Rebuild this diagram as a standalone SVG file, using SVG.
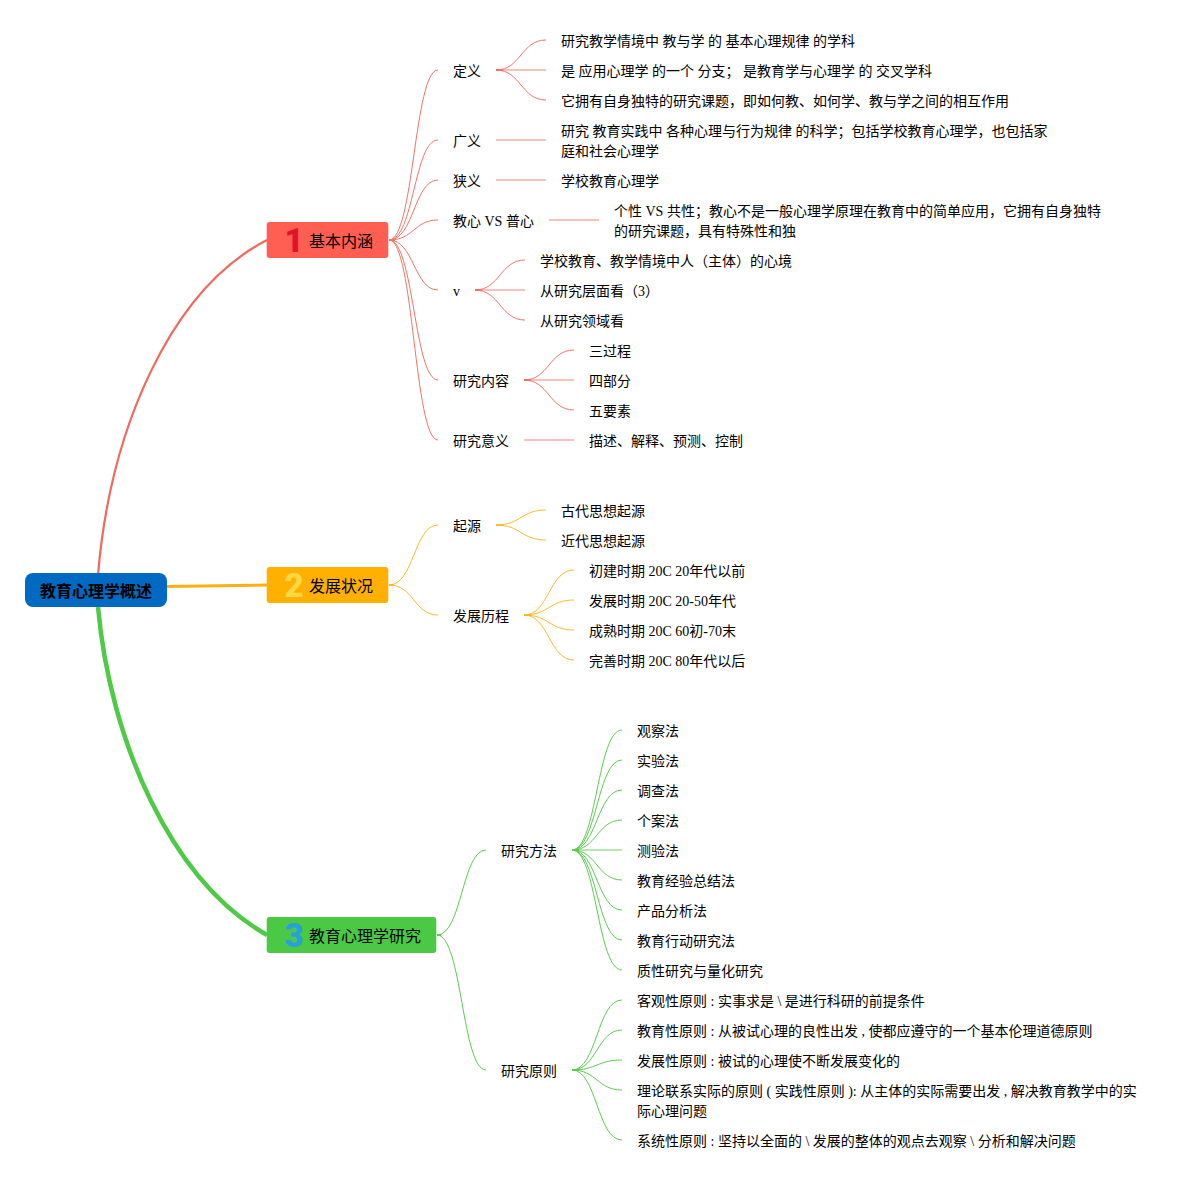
<svg xmlns="http://www.w3.org/2000/svg" width="1197" height="1180" viewBox="0 0 1197 1180">
<style>
text{font-family:"Liberation Serif","Noto Sans CJK SC",serif;font-size:14px;fill:#000}
.t{font-size:16px}
.r{font-size:16px;font-weight:bold;text-anchor:middle}
.n{font-family:"Roboto","Noto Sans",sans-serif;font-size:33px;font-weight:900;text-anchor:middle}
.c{fill:none;stroke-width:1}
.red{stroke:#ef7468}.org{stroke:#fcb92a}.grn{stroke:#5ccb50}
.s{stroke-opacity:.6;stroke-width:1.6}
.o{stroke-width:2.2}
</style>
<rect width="1197" height="1180" fill="#fff"/>
<g id="connectors" fill="none">
<path d="M98 575C110 430 170 290 267 240" stroke="#f0695c" stroke-width="2.2"/>
<path d="M167 586.500L267 585" stroke="#fdb010" stroke-width="3"/>
<path d="M98 607C110 740 170 880 267 935" stroke="#4fca45" stroke-width="4.500"/>
<g class="c red">
<path d="M389 240C414 240 414 70 438 70"/><path d="M389 240C414 240 414 140 438 140"/><path d="M389 240C414 240 414 180 438 180"/><path d="M389 240C414 240 414 220 438 220"/><path d="M389 240C414 240 414 290 438 290"/><path d="M389 240C414 240 414 380 438 380"/><path d="M389 240C414 240 414 440 438 440"/>
<path d="M496 70C521 70 521 40 546 40"/><path class="s" d="M496 70H546"/><path d="M496 70C521 70 521 100 546 100"/>
<path class="s" d="M496 140H546"/><path class="s" d="M496 180H546"/><path class="s" d="M549 220H599"/>
<path d="M475 290C500 290 500 260 525 260"/><path class="s" d="M475 290H525"/><path d="M475 290C500 290 500 320 525 320"/>
<path d="M524 380C549 380 549 350 574 350"/><path class="s" d="M524 380H574"/><path d="M524 380C549 380 549 410 574 410"/>
<path class="s" d="M524 440H574"/>
<path class="o" d="M389 240h6M496 70h7M475 290h7M524 380h7"/>
</g>
<g class="c org">
<path d="M389 585C414 585 414 525 438 525"/><path d="M389 585C414 585 414 615 438 615"/>
<path d="M496 525C521 525 521 510 546 510"/><path d="M496 525C521 525 521 540 546 540"/>
<path d="M524 615C549 615 549 570 574 570"/><path d="M524 615C549 615 549 600 574 600"/><path d="M524 615C549 615 549 630 574 630"/><path d="M524 615C549 615 549 660 574 660"/>
<path class="o" d="M389 585h5M496 525h6M524 615h7"/>
</g>
<g class="c grn">
<path d="M437 935C462 935 462 850 486 850"/><path d="M437 935C462 935 462 1070 486 1070"/>
<path d="M572 850C597 850 597 730 622 730"/><path d="M572 850C597 850 597 760 622 760"/><path d="M572 850C597 850 597 790 622 790"/><path d="M572 850C597 850 597 820 622 820"/><path class="s" d="M572 850H622"/><path d="M572 850C597 850 597 880 622 880"/><path d="M572 850C597 850 597 910 622 910"/><path d="M572 850C597 850 597 940 622 940"/><path d="M572 850C597 850 597 970 622 970"/>
<path d="M572 1070C597 1070 597 1000 622 1000"/><path d="M572 1070C597 1070 597 1030 622 1030"/><path d="M572 1070C597 1070 597 1060 622 1060"/><path d="M572 1070C597 1070 597 1090 622 1090"/><path d="M572 1070C597 1070 597 1140 622 1140"/>
<path class="o" d="M437 935h4M572 850h7M572 1070h7"/>
</g>
</g>
<g id="root"><rect x="25" y="573" width="142" height="34" rx="8" fill="#0069c2"/><text class="r" x="96" y="597">教育心理学概述</text></g>
<g id="topic1"><rect x="266.700" y="222" width="121.600" height="36" rx="3" fill="#ff5e52"/><text class="n" x="294" y="252" style="fill:#e0132a">1</text><text class="t" x="309" y="246.500">基本内涵</text></g>
<g id="topic2"><rect x="266.700" y="567" width="121.600" height="36" rx="3" fill="#ffb000"/><text class="n" x="294" y="597" style="fill:#fbd843">2</text><text class="t" x="309" y="591.500">发展状况</text></g>
<g id="topic3"><rect x="266.700" y="917" width="169.600" height="36" rx="3" fill="#4bc944"/><text class="n" x="294" y="947" style="fill:#27a0dc">3</text><text class="t" x="309" y="941.500">教育心理学研究</text></g>
<g id="n1"><text x="453" y="76">定义</text></g>
<g id="n2"><text x="561" y="46">研究教学情境中 教与学 的 基本心理规律 的学科</text></g>
<g id="n3"><text x="561" y="76">是 应用心理学 的一个 分支； 是教育学与心理学 的 交叉学科</text></g>
<g id="n4"><text x="561" y="106">它拥有自身独特的研究课题，即如何教、如何学、教与学之间的相互作用</text></g>
<g id="n5"><text x="453" y="146">广义</text></g>
<g id="n6"><text x="561" y="136">研究 教育实践中 各种心理与行为规律 的科学；包括学校教育心理学，也包括家</text><text x="561" y="156">庭和社会心理学</text></g>
<g id="n7"><text x="453" y="186">狭义</text></g>
<g id="n8"><text x="561" y="186">学校教育心理学</text></g>
<g id="n9"><text x="453" y="226">教心 VS 普心</text></g>
<g id="n10"><text x="614" y="216">个性 VS 共性；教心不是一般心理学原理在教育中的简单应用，它拥有自身独特</text><text x="614" y="236">的研究课题，具有特殊性和独</text></g>
<g id="n11"><text x="453" y="296">v</text></g>
<g id="n12"><text x="540" y="266">学校教育、教学情境中人（主体）的心境</text></g>
<g id="n13"><text x="540" y="296">从研究层面看（3）</text></g>
<g id="n14"><text x="540" y="326">从研究领域看</text></g>
<g id="n15"><text x="453" y="386">研究内容</text></g>
<g id="n16"><text x="589" y="356">三过程</text></g>
<g id="n17"><text x="589" y="386">四部分</text></g>
<g id="n18"><text x="589" y="416">五要素</text></g>
<g id="n19"><text x="453" y="446">研究意义</text></g>
<g id="n20"><text x="589" y="446">描述、解释、预测、控制</text></g>
<g id="n21"><text x="453" y="531">起源</text></g>
<g id="n22"><text x="561" y="516">古代思想起源</text></g>
<g id="n23"><text x="561" y="546">近代思想起源</text></g>
<g id="n24"><text x="453" y="621">发展历程</text></g>
<g id="n25"><text x="589" y="576">初建时期 20C 20年代以前</text></g>
<g id="n26"><text x="589" y="606">发展时期 20C 20-50年代</text></g>
<g id="n27"><text x="589" y="636">成熟时期 20C 60初-70末</text></g>
<g id="n28"><text x="589" y="666">完善时期 20C 80年代以后</text></g>
<g id="n29"><text x="501" y="856">研究方法</text></g>
<g id="n30"><text x="637" y="736">观察法</text></g>
<g id="n31"><text x="637" y="766">实验法</text></g>
<g id="n32"><text x="637" y="796">调查法</text></g>
<g id="n33"><text x="637" y="826">个案法</text></g>
<g id="n34"><text x="637" y="856">测验法</text></g>
<g id="n35"><text x="637" y="886">教育经验总结法</text></g>
<g id="n36"><text x="637" y="916">产品分析法</text></g>
<g id="n37"><text x="637" y="946">教育行动研究法</text></g>
<g id="n38"><text x="637" y="976">质性研究与量化研究</text></g>
<g id="n39"><text x="501" y="1076">研究原则</text></g>
<g id="n40"><text x="637" y="1006">客观性原则 : 实事求是 \ 是进行科研的前提条件</text></g>
<g id="n41"><text x="637" y="1036">教育性原则 : 从被试心理的良性出发 , 使都应遵守的一个基本伦理道德原则</text></g>
<g id="n42"><text x="637" y="1066">发展性原则 : 被试的心理使不断发展变化的</text></g>
<g id="n43"><text x="637" y="1096">理论联系实际的原则 ( 实践性原则 ): 从主体的实际需要出发 , 解决教育教学中的实</text><text x="637" y="1116">际心理问题</text></g>
<g id="n44"><text x="637" y="1146">系统性原则 : 坚持以全面的 \ 发展的整体的观点去观察 \ 分析和解决问题</text></g>
</svg>
